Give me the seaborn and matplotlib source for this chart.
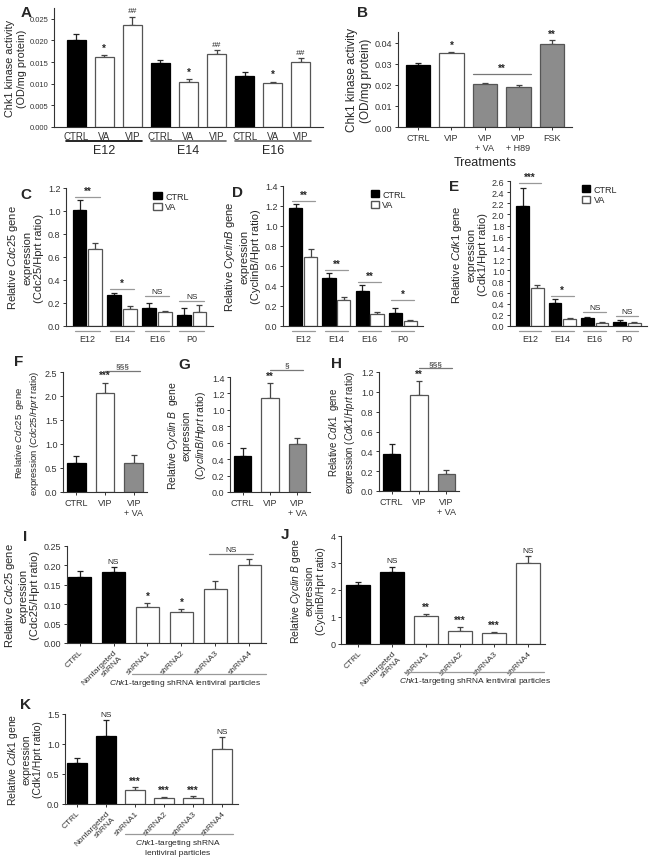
import pandas as pd
import seaborn as sns
import matplotlib.pyplot as plt
from matplotlib.patches import Patch
from matplotlib.transforms import blended_transform_factory

W, H = 662, 862

# ---- data (mean, sem) ----
a_keys = ["E12 CTRL", "E12 VA", "E12 VIP", "E14 CTRL", "E14 VA", "E14 VIP", "E16 CTRL", "E16 VA", "E16 VIP"]
a_ticks = ["CTRL", "VA", "VIP"] * 3
a_mean = [0.0201, 0.0161, 0.0236, 0.0147, 0.0104, 0.0169, 0.0118, 0.0102, 0.0150]
a_sem = [0.0013, 0.0006, 0.0019, 0.0007, 0.0007, 0.0008, 0.0009, 0.0003, 0.0009]
a_sig = ["", "*", "##"] * 3
a_groups = ["E12", "E14", "E16"]

b_treat = ["CTRL", "VIP", "VIP\n+ VA", "VIP\n+ H89", "FSK"]
b_mean = [0.0295, 0.0350, 0.0205, 0.0188, 0.0395]
b_sem = [0.0010, 0.0005, 0.0003, 0.0013, 0.0015]
b_sig = ["", "*", "", "", "**"]

stages = ["E12", "E14", "E16", "P0"]
c_ctrl = [1.01, 0.27, 0.16, 0.10]
c_ctrl_sem = [0.09, 0.015, 0.04, 0.055]
c_va = [0.67, 0.15, 0.12, 0.12]
c_va_sem = [0.05, 0.02, 0.008, 0.06]
c_sig = ["**", "*", "NS", "NS"]
c_sig_y = [1.12, 0.32, 0.26, 0.22]

d_ctrl = [1.18, 0.48, 0.35, 0.13]
d_ctrl_sem = [0.04, 0.05, 0.06, 0.05]
d_va = [0.69, 0.26, 0.12, 0.05]
d_va_sem = [0.08, 0.03, 0.025, 0.01]
d_sig = ["**", "**", "**", "*"]
d_sig_y = [1.25, 0.56, 0.44, 0.26]

e_ctrl = [2.15, 0.42, 0.14, 0.08]
e_ctrl_sem = [0.33, 0.06, 0.02, 0.03]
e_va = [0.68, 0.12, 0.06, 0.06]
e_va_sem = [0.05, 0.03, 0.015, 0.015]
e_sig = ["***", "*", "NS", "NS"]
e_sig_y = [2.57, 0.54, 0.25, 0.18]

vip_treat = ["CTRL", "VIP", "VIP\n+ VA"]
f_mean = [0.60, 2.07, 0.60]
f_sem = [0.14, 0.21, 0.17]
g_mean = [0.44, 1.14, 0.58]
g_sem = [0.09, 0.19, 0.08]
h_mean = [0.37, 0.97, 0.17]
h_sem = [0.10, 0.14, 0.045]

sh_cond = ["CTRL", "Nontargeted\nshRNA", "shRNA1", "shRNA2", "shRNA3", "shRNA4"]
i_mean = [0.170, 0.183, 0.093, 0.080, 0.140, 0.200]
i_sem = [0.016, 0.014, 0.010, 0.007, 0.021, 0.016]
i_sig = ["", "NS", "*", "*", "", ""]
j_mean = [2.20, 2.65, 1.05, 0.50, 0.40, 3.00]
j_sem = [0.08, 0.22, 0.05, 0.12, 0.03, 0.25]
j_sig = ["", "NS", "**", "***", "***", "NS"]
k_mean = [0.69, 1.13, 0.23, 0.10, 0.10, 0.92]
k_sem = [0.08, 0.27, 0.05, 0.02, 0.03, 0.20]
k_sig = ["", "NS", "***", "***", "***", "NS"]

BLACK, WHITE, GREY, EDGE = "#000000", "#ffffff", "#8c8c8c", "#555555"

sns.set_style("ticks")
plt.rcParams["font.family"] = ["Liberation Sans", "DejaVu Sans"]
plt.rcParams.update({
    "mathtext.fontset": "custom", "mathtext.rm": "Liberation Sans",
    "mathtext.it": "Liberation Sans:italic",
    "axes.edgecolor": "#333333", "axes.linewidth": 0.8,
    "xtick.color": "#333333", "ytick.color": "#333333",
    "xtick.labelsize": 6.5, "ytick.labelsize": 6.5,
    "xtick.major.size": 2, "ytick.major.size": 2.5,
    "xtick.major.width": 0.7, "ytick.major.width": 0.7,
    "xtick.major.pad": 2, "ytick.major.pad": 1.5,
    "axes.labelsize": 8, "axes.labelpad": 3,
})

fig = plt.figure(figsize=(W / 100, H / 100), dpi=100)


def add_ax(l, t, r, b):
    return fig.add_axes([l / W, 1 - b / H, (r - l) / W, (b - t) / H])


def fy(py):
    return 1 - py / H


def style(p):
    fc = p.get_facecolor()
    if fc[0] < 0.1:
        p.set_edgecolor(BLACK)
    else:
        p.set_edgecolor(EDGE)
    p.set_linewidth(0.9)


def errbar(ax, x, y, e, col):
    ax.errorbar([x], [y], yerr=[[0], [e]], fmt="none", ecolor=col,
                elinewidth=0.9, capsize=2.5, capthick=0.9, zorder=1)


def simple_bars(ax, keys, means, sems, colors, sig=None, width=0.7, sig_pad=0.02):
    df = pd.DataFrame({"cond": keys, "mean": means})
    sns.barplot(data=df, x="cond", y="mean", hue="cond", palette=colors,
                dodge=False, legend=False, width=width, errorbar=None,
                saturation=1, ax=ax, zorder=2)
    top = ax.get_ylim()[1]
    for p in ax.patches:
        style(p)
        xc = p.get_x() + p.get_width() / 2
        i = int(round(xc))
        errbar(ax, xc, means[i], sems[i], "#222222" if colors[i] == BLACK else "#444444")
        if sig and sig[i]:
            bold = "*" in sig[i]
            ax.text(xc, means[i] + sems[i] + sig_pad * top, sig[i], ha="center", va="bottom",
                    fontsize=7 if bold else 6, fontweight="bold" if bold else "normal",
                    fontstyle="italic" if "#" in sig[i] else "normal", clip_on=False)
    ax.set_xlabel("")
    sns.despine(ax=ax)


def paired_bars(ax, ctrl, ctrl_sem, va, va_sem, sig, sig_y, leg_x):
    df = pd.DataFrame({"stage": stages * 2, "treat": ["CTRL"] * 4 + ["VA"] * 4,
                       "mean": ctrl + va})
    sns.barplot(data=df, x="stage", y="mean", hue="treat", hue_order=["CTRL", "VA"],
                palette={"CTRL": BLACK, "VA": WHITE}, width=0.9, gap=0.12,
                errorbar=None, legend=False, saturation=1, ax=ax, zorder=2)
    for p in ax.patches:
        style(p)
        xc = p.get_x() + p.get_width() / 2
        i = int(round(xc))
        if xc < i:
            errbar(ax, xc, ctrl[i], ctrl_sem[i], "#222222")
        else:
            errbar(ax, xc, va[i], va_sem[i], "#444444")
    top = ax.get_ylim()[1]
    for i, s in enumerate(sig):
        ax.plot([i - 0.35, i + 0.35], [sig_y[i], sig_y[i]], color="#999999", lw=0.9, clip_on=False)
        bold = "*" in s
        ax.text(i, sig_y[i] + 0.008 * top, s, ha="center", va="bottom",
                fontsize=7 if bold else 6, fontweight="bold" if bold else "normal", clip_on=False)
    tr = blended_transform_factory(ax.transData, fig.transFigure)
    for i in range(4):
        ax.plot([i - 0.35, i + 0.35], [fy(332), fy(332)], color="#999999", lw=0.9,
                transform=tr, clip_on=False)
    ax.tick_params(axis="x", length=0, pad=6)
    ax.set_xlabel("")
    handles = [Patch(facecolor=BLACK, edgecolor=BLACK, label="CTRL"),
               Patch(facecolor=WHITE, edgecolor=EDGE, label="VA")]
    ax.legend(handles=handles, loc="upper left", bbox_to_anchor=(leg_x, 1.0), frameon=False,
              fontsize=6.5, handlelength=0.9, handleheight=0.9, handletextpad=0.4,
              labelspacing=0.2, borderaxespad=0)
    sns.despine(ax=ax)


def bracket(ax, x0, x1, y, s):
    ax.plot([x0, x1], [y, y], color="#777777", lw=0.9, clip_on=False)
    bold = "*" in s
    ax.text((x0 + x1) / 2, y + 0.01 * ax.get_ylim()[1], s, ha="center", va="bottom",
            fontsize=7 if bold else 6, fontweight="bold" if bold else "normal", clip_on=False)


# ---- A ----
axA = add_ax(54, 9, 323, 128)
axA.set_ylim(0, 0.0275)
axA.set_yticks([0, 0.005, 0.010, 0.015, 0.020, 0.025])
axA.set_yticklabels(["0.000", "0.005", "0.010", "0.015", "0.020", "0.025"])
simple_bars(axA, a_keys, a_mean, a_sem, [BLACK, WHITE, WHITE] * 3, a_sig, width=0.68)
axA.set_xticks(range(9))
axA.set_xticklabels(a_ticks, fontsize=7)
axA.tick_params(axis="x", length=0, pad=3)
axA.tick_params(axis="y", labelsize=5.5)
axA.set_ylabel("Chk1 kinase activity\n(OD/mg protein)", fontsize=7.8, labelpad=2)
trA = blended_transform_factory(axA.transData, fig.transFigure)
for g, name in enumerate(a_groups):
    axA.plot([3 * g - 0.35, 3 * g + 2.35], [fy(142), fy(142)], transform=trA, clip_on=False,
             color=BLACK if g == 0 else "#666666", lw=1.2)
    axA.text(3 * g + 1, fy(151), name, transform=trA, ha="center", va="center", fontsize=9)

# ---- B ----
axB = add_ax(398, 33, 572, 128)
axB.set_ylim(0, 0.045)
axB.set_yticks([0, 0.01, 0.02, 0.03, 0.04])
axB.set_yticklabels(["0.00", "0.01", "0.02", "0.03", "0.04"])
simple_bars(axB, b_treat, b_mean, b_sem, [BLACK, WHITE, GREY, GREY, GREY], b_sig, width=0.72)
axB.tick_params(axis="x", length=2)
axB.set_ylabel("Chk1 kinase activity\n(OD/mg protein)", fontsize=8.5, labelpad=2)
axB.set_xlabel("Treatments", fontsize=9, labelpad=3)
bracket(axB, 1.64, 3.36, 0.0252, "**")

# ---- C, D, E ----
axC = add_ax(66, 189, 213, 327)
axC.set_ylim(0, 1.2)
axC.set_yticks([0, 0.2, 0.4, 0.6, 0.8, 1.0, 1.2])
paired_bars(axC, c_ctrl, c_ctrl_sem, c_va, c_va_sem, c_sig, c_sig_y, 0.57)
axC.set_ylabel("Relative $\\it{Cdc25}$ gene\nexpression\n(Cdc25/Hprt ratio)")

axD = add_ax(283, 187, 423, 327)
axD.set_ylim(0, 1.4)
axD.set_yticks([0, 0.2, 0.4, 0.6, 0.8, 1.0, 1.2, 1.4])
paired_bars(axD, d_ctrl, d_ctrl_sem, d_va, d_va_sem, d_sig, d_sig_y, 0.6)
axD.set_ylabel("Relative $\\it{CyclinB}$ gene\nexpression\n(CyclinB/Hprt ratio)")

axE = add_ax(510, 182, 647, 327)
axE.set_ylim(0, 2.6)
axE.set_yticks([round(0.2 * i, 1) for i in range(14)])
paired_bars(axE, e_ctrl, e_ctrl_sem, e_va, e_va_sem, e_sig, e_sig_y, 0.5)
axE.set_ylabel("Relative $\\it{Cdk1}$ gene\nexpression\n(Cdk1/Hprt ratio)")

# ---- F, G, H ----
vip_cols = [BLACK, WHITE, GREY]
axF = add_ax(63, 373, 147, 493)
axF.set_ylim(0, 2.5)
axF.set_yticks([0, 0.5, 1.0, 1.5, 2.0, 2.5])
simple_bars(axF, vip_treat, f_mean, f_sem, vip_cols, ["", "***", ""], width=0.65)
bracket(axF, 1.0, 2.2, 2.53, "§§§")
axF.set_ylabel("Relative $\\it{Cdc25}$  gene\nexpression ($\\it{Cdc25/Hprt}$ ratio)", fontsize=6.8)

axG = add_ax(230, 378, 310, 493)
axG.set_ylim(0, 1.4)
axG.set_yticks([0, 0.2, 0.4, 0.6, 0.8, 1.0, 1.2, 1.4])
simple_bars(axG, vip_treat, g_mean, g_sem, vip_cols, ["", "**", ""], width=0.65)
bracket(axG, 1.0, 2.2, 1.49, "§")
axG.set_ylabel("Relative $\\it{Cyclin\\ B}$  gene\nexpression\n($\\it{CyclinB/Hprt}$ ratio)", fontsize=7.5)

axH = add_ax(379, 373, 459, 492)
axH.set_ylim(0, 1.2)
axH.set_yticks([0, 0.2, 0.4, 0.6, 0.8, 1.0, 1.2])
simple_bars(axH, vip_treat, h_mean, h_sem, vip_cols, ["", "**", ""], width=0.65)
bracket(axH, 1.0, 2.2, 1.24, "§§§")
axH.set_ylabel("Relative $\\it{Cdk1}$  gene\nexpression ($\\it{Cdk1/Hprt}$ ratio)", fontsize=7)

# ---- I, J, K ----
sh_cols = [BLACK, BLACK, WHITE, WHITE, WHITE, WHITE]


def sh_axis(ax, line_px, x0, x1, text_px, text_x, text):
    ax.set_xticks(range(6))
    ax.set_xticklabels(sh_cond, rotation=45, ha="right", rotation_mode="anchor", fontsize=6)
    ax.tick_params(axis="x", length=2)
    tr = blended_transform_factory(ax.transData, fig.transFigure)
    ax.plot([x0, x1], [fy(line_px), fy(line_px)], color="#999999", lw=0.9,
            transform=tr, clip_on=False)
    ax.text(text_x, fy(text_px), text, transform=tr, ha="center", va="top", fontsize=6,
            linespacing=1.3)


axI = add_ax(67, 547, 266, 644)
axI.set_ylim(0, 0.25)
axI.set_yticks([0, 0.05, 0.10, 0.15, 0.20, 0.25])
axI.set_yticklabels(["0.00", "0.05", "0.10", "0.15", "0.20", "0.25"])
simple_bars(axI, sh_cond, i_mean, i_sem, sh_cols, i_sig, width=0.68)
axI.set_xlim(-0.37, 5.49)
bracket(axI, 3.8, 5.1, 0.229, "NS")
sh_axis(axI, 675, 1.55, 5.49, 678, 3.1, "$\\it{Chk1}$-targeting shRNA lentiviral particles")
axI.set_ylabel("Relative $\\it{Cdc25}$ gene\nexpression\n(Cdc25/Hprt ratio)")

axJ = add_ax(341, 537, 545, 645)
axJ.set_ylim(0, 4)
axJ.set_yticks([0, 1, 2, 3, 4])
simple_bars(axJ, sh_cond, j_mean, j_sem, sh_cols, j_sig, width=0.68)
axJ.set_xlim(-0.5, 5.5)
sh_axis(axJ, 673, 1.34, 5.47, 676, 3.43, "$\\it{Chk1}$-targeting shRNA lentiviral particles")
axJ.set_ylabel("Relative $\\it{Cyclin\\ B}$ gene\nexpression\n(CyclinB/Hprt ratio)", fontsize=7.5)

axK = add_ax(65, 715, 238, 805)
axK.set_ylim(0, 1.5)
axK.set_yticks([0, 0.5, 1.0, 1.5])
simple_bars(axK, sh_cond, k_mean, k_sem, sh_cols, k_sig, width=0.69)
axK.set_xlim(-0.41, 5.55)
sh_axis(axK, 835, 1.66, 5.38, 838, 3.48, "$\\it{Chk1}$-targeting shRNA\nlentiviral particles")
axK.set_ylabel("Relative $\\it{Cdk1}$ gene\nexpression\n(Cdk1/Hprt ratio)", fontsize=7.5)

# ---- panel letters ----
for s, x, y in [("A", 21, 13), ("B", 357, 13), ("C", 20, 195), ("D", 232, 193),
                ("E", 449, 187), ("F", 14, 362), ("G", 178, 365), ("H", 331, 364),
                ("I", 23, 537), ("J", 281, 535), ("K", 20, 705)]:
    fig.text(x / W, fy(y), s, fontsize=11, fontweight="bold", ha="left", va="center")

fig.savefig("out.png", dpi=100)
